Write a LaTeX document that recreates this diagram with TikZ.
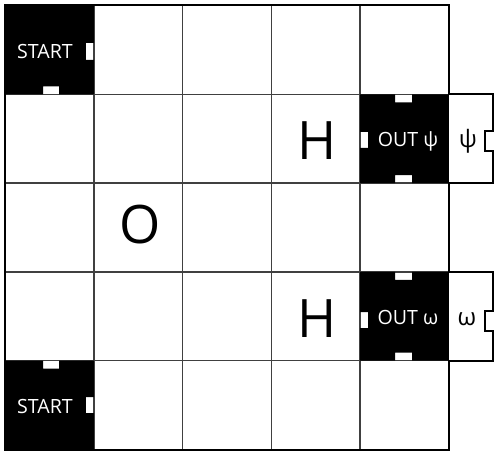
\documentclass[tikz,border=0pt]{standalone}
\usepackage{fontspec}
\setmainfont{Open Sans}
\begin{document}
\begin{tikzpicture}[x=1pt,y=-1pt,
  gridline/.style={draw=black!75,line width=1.5pt},
  border/.style={draw=black,line width=2pt},
  block/.style={fill=black},
  boxline/.style={draw=black,line width=1.8pt,fill=white},
  smalltxt/.style={font=\fontsize{19.6}{22}\selectfont,anchor=base,inner sep=0pt},
  greektxt/.style={font=\fontsize{24}{26}\selectfont,anchor=base,inner sep=0pt},
  whitetxt/.style={smalltxt,text=white},
  bigtxt/.style={font=\fontsize{53}{56}\selectfont,anchor=base,inner sep=0pt}]
\useasboundingbox (0,0) rectangle (494,454);
\fill[white] (0,0) rectangle (494,454);
% grid
\foreach \i in {1,2,3,4}{
  \draw[gridline] ({5+88.8*\i},5.5) -- ({5+88.8*\i},449.5);
  \draw[gridline] (5,{5.5+88.8*\i}) -- (449,{5.5+88.8*\i});
}
\draw[border] (5,5.5) rectangle (449,449.5);
% START top
\fill[block] (5,5.5) -- (93.8,5.5) -- (93.8,43) -- (85.8,43) -- (85.8,60) -- (93.8,60) -- (93.8,94.3)
  -- (59,94.3) -- (59,86.3) -- (43,86.3) -- (43,94.3) -- (5,94.3) -- cycle;
% START bottom
\fill[block] (5,360.7) -- (43,360.7) -- (43,368.7) -- (59,368.7) -- (59,360.7) -- (93.8,360.7)
  -- (93.8,397) -- (85.8,397) -- (85.8,413) -- (93.8,413) -- (93.8,449.5) -- (5,449.5) -- cycle;
% OUT psi
\fill[block] (360.2,94.3) -- (395,94.3) -- (395,102.3) -- (412,102.3) -- (412,94.3) -- (449,94.3)
  -- (449,183.1) -- (412,183.1) -- (412,175.1) -- (395,175.1) -- (395,183.1) -- (360.2,183.1)
  -- (360.2,148) -- (368.2,148) -- (368.2,132) -- (360.2,132) -- cycle;
% OUT omega
\fill[block] (360.2,271.9) -- (395,271.9) -- (395,279.9) -- (412,279.9) -- (412,271.9) -- (449,271.9)
  -- (449,360.7) -- (412,360.7) -- (412,352.7) -- (395,352.7) -- (395,360.7) -- (360.2,360.7)
  -- (360.2,328) -- (368.2,328) -- (368.2,312) -- (360.2,312) -- cycle;
% side boxes
\draw[boxline] (449,94.3) -- (493,94.3) -- (493,131) -- (485,131) -- (485,151) -- (493,151) -- (493,183.1) -- (449,183.1);
\draw[boxline] (449,271.9) -- (493,271.9) -- (493,311) -- (485,311) -- (485,331) -- (493,331) -- (493,360.7) -- (449,360.7);
% texts
\node[whitetxt] (start1) at (45,59) {START};
\node[whitetxt] (start2) at (45,413) {START};
\node[whitetxt] (outpsi) at (408,147) {OUT ψ};
\node[whitetxt] (outomega) at (408,324.5) {OUT ω};
\node[greektxt] (psi) at (468,148) {ψ};
\node[greektxt] (omega) at (467,325) {ω};
\node[bigtxt] (h1) at (317,160) {H};
\node[bigtxt] (h2) at (317,337.6) {H};
\node[bigtxt] (o1) at (140,243) {O};
\end{tikzpicture}
\end{document}
